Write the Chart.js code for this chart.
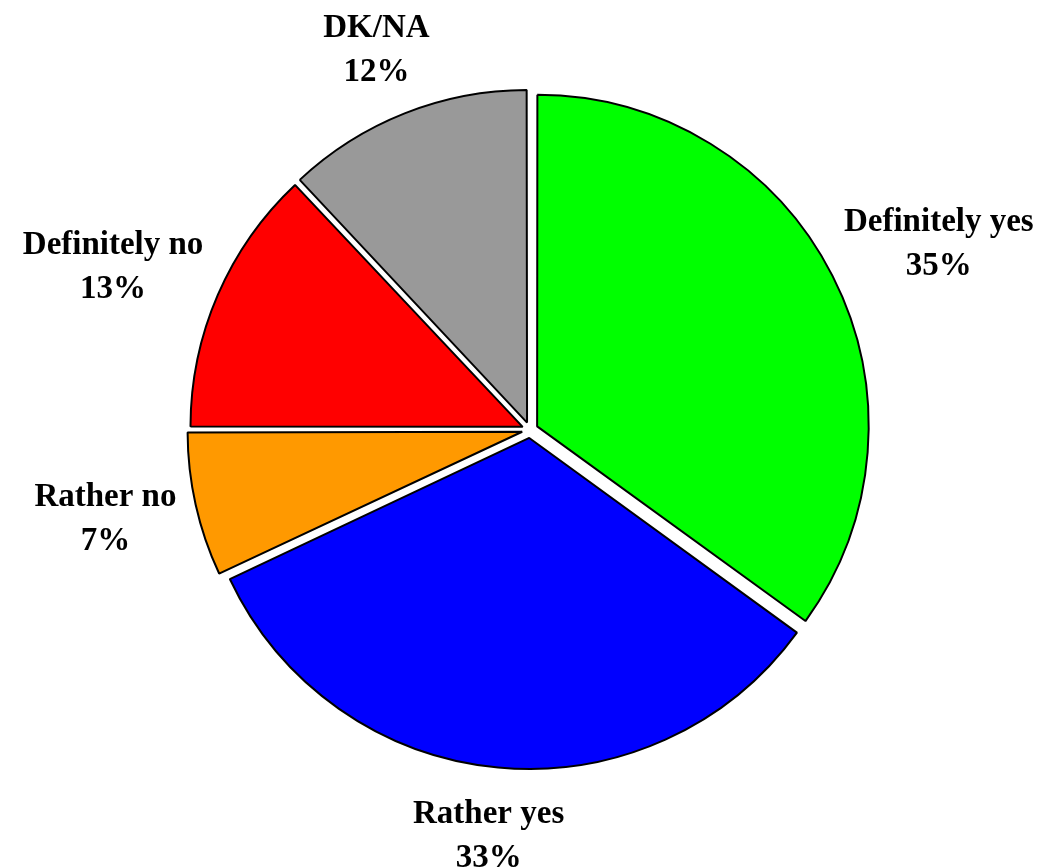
<!DOCTYPE html>
<html>
<head>
<meta charset="utf-8">
<script src="https://cdn.jsdelivr.net/npm/chart.js@4"></script>
<style>
  html, body { margin: 0; padding: 0; background: #fff; }
  #wrap { width: 1046px; height: 867px; }
</style>
</head>
<body>
<div id="wrap"><canvas id="pie" width="1046" height="867"></canvas></div>
<script>
// categories and shares (%), clockwise from 12 o'clock
const categories = ['Definitely yes', 'Rather yes', 'Rather no', 'Definitely no', 'DK/NA'];
const shares = [35, 33, 7, 13, 12];
const sliceColors = ['#00FF00', '#0000FF', '#FF9900', '#FF0000', '#999999'];

// draws "Name / NN%" outside each slice
const outsideLabels = {
    id: 'outsideLabels',
    afterDatasetsDraw(chart) {
        const ctx = chart.ctx;
        const arcs = chart.getDatasetMeta(0).data;
        const lineH = 44;
        ctx.save();
        ctx.font = 'bold 33px "Liberation Serif", "Times New Roman", serif';
        ctx.fillStyle = '#000';
        ctx.textAlign = 'center';
        ctx.textBaseline = 'middle';
        arcs.forEach((arc, i) => {
            const mid = (arc.startAngle + arc.endAngle) / 2;
            const dx = Math.cos(mid), dy = Math.sin(mid);
            const lines = [categories[i], shares[i] + '%'];
            const w = Math.max(...lines.map(t => ctx.measureText(t).width));
            const h = lineH * lines.length;
            const gap = 34;
            const px = arc.x + (arc.outerRadius + gap) * dx;
            const py = arc.y + (arc.outerRadius + gap) * dy;
            const cx = px + dx * w / 2;
            const cy = py + dy * h / 2;
            lines.forEach((t, k) => {
                ctx.fillText(t, cx, cy + (k - (lines.length - 1) / 2) * lineH);
            });
        });
        ctx.restore();
    }
};

const ctx = document.getElementById('pie').getContext('2d');
new Chart(ctx, {
    type: 'pie',
    data: {
        labels: categories,
        datasets: [{
            data: shares,
            backgroundColor: sliceColors,
            borderColor: '#000000',
            borderWidth: 2,
            offset: 32
        }]
    },
    options: {
        responsive: false,
        animation: false,
        radius: 330,
        layout: { padding: { left: 100, right: 86, top: 52, bottom: 59 } },
        plugins: {
            legend: { display: false },
            tooltip: { enabled: false }
        }
    },
    plugins: [outsideLabels]
});
</script>
</body>
</html>
